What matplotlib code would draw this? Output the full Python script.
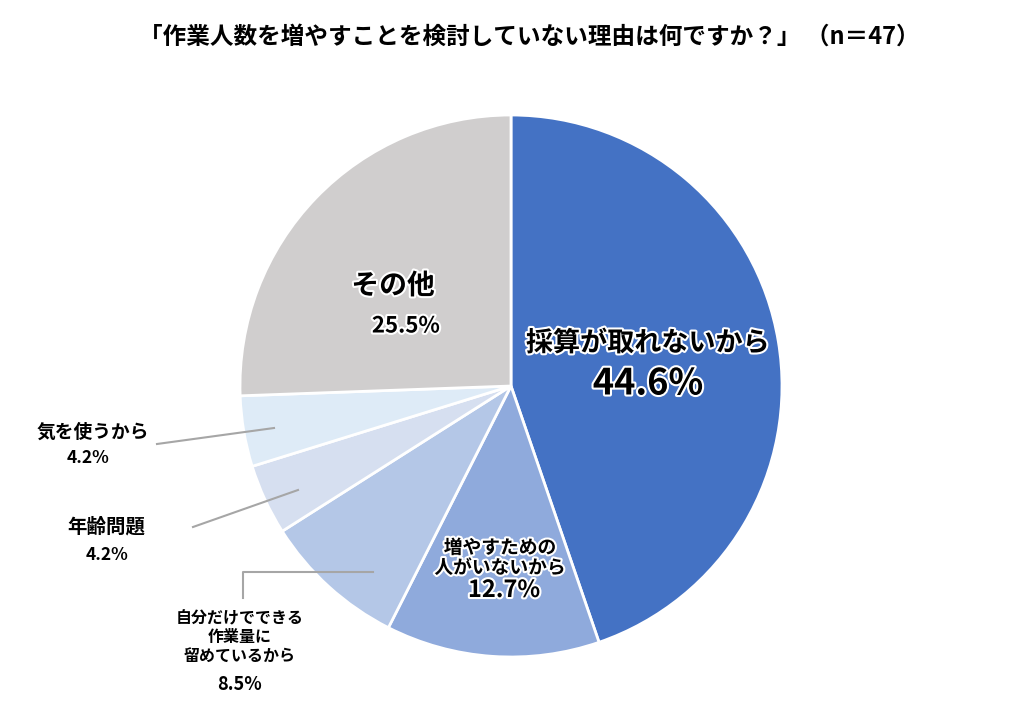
import matplotlib.pyplot as plt
import matplotlib.patheffects as pe

plt.rcParams['font.family'] = ['Noto Sans CJK JP', 'DejaVu Sans']

######## DATA ########
categories = ['採算が取れないから', '増やすための人がいないから', '自分だけでできる作業量に留めているから',
              '年齢問題', '気を使うから', 'その他']
shares = [44.6, 12.7, 8.5, 4.2, 4.2, 25.5]
colors = ['#4472C4', '#8FAADC', '#B4C7E7', '#D6DFF0', '#DEEBF7', '#D0CECE']
title = '「作業人数を増やすことを検討していない理由は何ですか？」 （n＝47）'

W, H = 1010, 720


def py(y):
    # pixel row (from top) -> axes y
    return H - y


fig = plt.figure(figsize=(W / 100, H / 100), dpi=100)
ax = fig.add_axes([0, 0, 1, 1])

ax.pie(shares, colors=colors, startangle=90, counterclock=False,
       center=(511, py(386)), radius=271,
       wedgeprops=dict(edgecolor='white', linewidth=2))
ax.set_xlim(0, W)
ax.set_ylim(0, H)
ax.set_aspect('equal')
ax.axis('off')

halo = [pe.withStroke(linewidth=3, foreground='white')]
pct = [f'{v:.1f}%' for v in shares]

# labels inside the pie
ax.text(648, py(343), categories[0], ha='center', va='center', fontsize=19.5,
        fontweight='bold', color='black', path_effects=halo)
ax.text(648, py(384), pct[0], ha='center', va='center', fontsize=26,
        fontweight='bold', color='black', path_effects=halo)

ax.text(500, py(548), '増やすための', ha='center', va='center', fontsize=13.5,
        fontweight='bold', path_effects=halo)
ax.text(500, py(568), '人がいないから', ha='center', va='center', fontsize=13.5,
        fontweight='bold', path_effects=halo)
ax.text(504, py(590), pct[1], ha='center', va='center', fontsize=17,
        fontweight='bold', path_effects=halo)

ax.text(393, py(286), categories[5], ha='center', va='center', fontsize=20,
        fontweight='bold', path_effects=halo)
ax.text(406, py(326), pct[5], ha='center', va='center', fontsize=16,
        fontweight='bold', path_effects=halo)

# outside labels
ax.text(93, py(432), categories[4], ha='center', va='center', fontsize=13.5, fontweight='bold')
ax.text(88, py(458), pct[4], ha='center', va='center', fontsize=12.5, fontweight='bold')
ax.text(106, py(527), categories[3], ha='center', va='center', fontsize=14, fontweight='bold')
ax.text(107, py(555), pct[3], ha='center', va='center', fontsize=12.5, fontweight='bold')
ax.text(240, py(618), '自分だけでできる', ha='center', va='center', fontsize=11.5, fontweight='bold')
ax.text(240, py(637), '作業量に', ha='center', va='center', fontsize=11.5, fontweight='bold')
ax.text(240, py(656), '留めているから', ha='center', va='center', fontsize=11.5, fontweight='bold')
ax.text(240, py(685), pct[2], ha='center', va='center', fontsize=13, fontweight='bold')

# leader lines
line_kw = dict(color='#A6A6A6', linewidth=1.5)
ax.plot([157, 274], [py(444), py(428)], **line_kw)
ax.plot([193, 298], [py(527), py(490)], **line_kw)
ax.plot([243, 243, 373], [py(598), py(572), py(572)], **line_kw)

ax.text(529, py(37), title, ha='center', va='center', fontsize=17, fontweight='bold')

fig.savefig('out.png', dpi=100)
